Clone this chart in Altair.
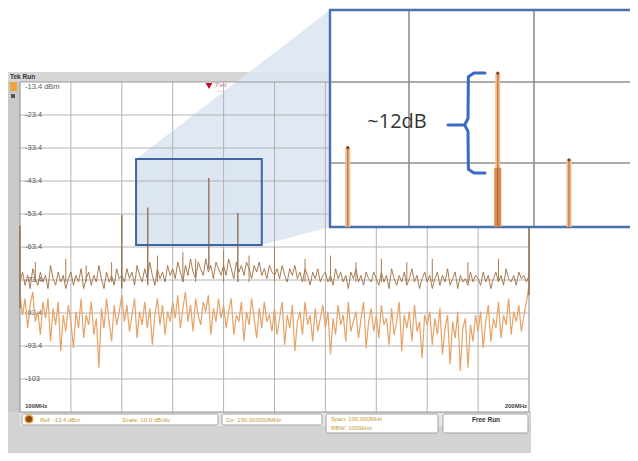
import altair as alt
import pandas as pd

# ---------------- layout constants ----------------
OX, OY = 8, 8          # page margin
W, H = 622, 445        # whole chart

# ---------------- data ----------------
FREQ_START = 100.0     # MHz
LOWER_STEP = 0.5
UPPER_STEP = 0.5

lower_trace = [
    -78, -84, -79, -88, -81, -77, -86, -83, -90, -80, -85, -79, -92, -82, -87, -80, -95, -84, -89, -81,
    -86, -94, -83, -88, -79, -91, -84, -87, -80, -90, -85, -100, -82, -88, -79, -86, -92, -81, -87, -83,
    -78, -86, -81, -89, -84, -79, -91, -83, -87, -80, -88, -82, -93, -84, -79, -87, -81, -90, -83, -86,
    -80, -85, -78, -88, -82, -77, -86, -81, -89, -79, -84, -87, -80, -83, -78, -90, -82, -86, -79, -85,
    -81, -88, -83, -79, -90, -84, -86, -80, -92, -83, -87, -79, -85, -91, -82, -88, -80, -86, -84, -89,
    -82, -90, -85, -80, -93, -84, -88, -81, -95, -86, -83, -90, -80, -87, -84, -92, -82, -89, -85, -81,
    -88, -83, -96, -85, -90, -81, -87, -84, -92, -80, -89, -86, -83, -91, -85, -80, -94, -86, -82, -89,
    -84, -91, -81, -87, -85, -93, -82, -90, -86, -80, -95, -84, -88, -83, -92, -81, -89, -86, -97, -84,
    -87, -83, -93, -85, -90, -82, -96, -88, -84, -99, -86, -91, -83, -101, -88, -85, -100, -87, -92, -84,
    -89, -83, -94, -86, -81, -92, -85, -88, -80, -91, -84, -87, -79, -90, -83, -86, -81, -89, -84, -80,
    -75,
]

upper_trace = [
    -74, -71, -75, -72, -76, -70, -73, -75, -71, -74, -72, -76, -69, -73, -75, -71, -74, -72, -76, -73,
    -71, -75, -72, -74, -70, -76, -73, -71, -75, -72, -74, -69, -73, -76, -71, -74, -72, -75, -70, -73,
    -72, -74, -70, -73, -71, -75, -69, -72, -74, -70, -73, -68, -72, -75, -70, -73, -71, -74, -69, -72,
    -70, -73, -68, -71, -74, -69, -72, -67, -71, -73, -68, -70, -72, -67, -71, -69, -73, -68, -70, -72,
    -69, -72, -67, -70, -73, -68, -71, -69, -72, -68, -70, -73, -69, -71, -68, -72, -70, -73, -69, -71,
    -72, -70, -73, -69, -72, -74, -70, -72, -69, -73, -71, -74, -70, -72, -75, -71, -73, -70, -74, -72,
    -71, -74, -72, -75, -70, -73, -71, -74, -72, -76, -71, -73, -70, -74, -72, -75, -71, -73, -74, -71,
    -73, -75, -71, -74, -72, -76, -70, -73, -75, -72, -74, -71, -75, -73, -70, -74, -72, -76, -73, -71,
    -74, -72, -76, -73, -71, -75, -72, -74, -70, -75, -73, -71, -76, -72, -74, -73, -75, -71, -74, -72,
    -73, -75, -71, -74, -72, -76, -73, -71, -74, -72, -75, -70, -73, -74, -72, -75, -71, -73, -72, -74,
    -72,
]

minor_spike_freq = [103, 109, 113, 118, 127, 132, 134.5, 140, 145, 150, 156, 161, 166, 171, 176, 181, 188, 194]
minor_spike_peak = [-68, -67, -69, -68, -66, -65, -67, -64.3, -66, -63.4, -67, -66, -68, -67, -68, -67, -68, -67]
minor_spike_base = -74

main_spike_freq = [100.0, 120.0, 125.1, 137.1, 142.8, 200.0]
main_spike_peak = [-57.0, -53.7, -51.4, -42.5, -53.1, -56.0]
main_spike_base = [-82, -76, -75, -70, -74, -78]

y_ticks = [-13.4, -23.4, -33.4, -43.4, -53.4, -63.4, -73.4, -83.4, -93.4, -103.4]
y_tick_labels = ["-13.4 dBm", "-23.4", "-33.4", "-43.4", "-53.4", "-63.4", "-73.4", "-83.4", "-93.4", "-103"]
x_grid = [110, 120, 130, 140, 150, 160, 170, 180, 190]

zoom_box_freq = [122.8, 147.5]
zoom_box_db = [-62.8, -36.7]

inset_freq_domain = [123.68, 148.32]
inset_db_domain = [-61.3, -34.51]
inset_grid_freq = [130, 140]
inset_grid_db = [-43.4, -53.4]
inset_spike_freq = [125.1, 137.1, 142.8]
inset_spike_peak = [-51.5, -42.3, -53.0]
inset_lower_freq = [137.1]
inset_lower_top = [-54.0]

brace_freq = [136.08, 135.2, 134.75, 134.72, 134.45, 134.72, 134.75, 135.2, 136.08]
brace_db = [-42.29, -42.29, -42.75, -47.9, -48.71, -49.5, -54.17, -54.63, -54.63]
pointer_freq = [133.12, 134.45]
pointer_db = -48.71
annot_text = "~12dB"
annot_freq = 129.04
annot_db = -48.34

# ---------------- scales ----------------
main_x = alt.Scale(domain=[100, 200], range=[20 - OX, 529 - OX], nice=False, zero=False)
main_y = alt.Scale(domain=[-113.4, -13.4], range=[412 - OY, 82 - OY], nice=False, zero=False)
ins_x = alt.Scale(domain=inset_freq_domain, range=[330 - OX, 638 - OX], nice=False, zero=False)
ins_y = alt.Scale(domain=inset_db_domain, range=[227 - OY, 10 - OY], nice=False, zero=False)
pix_x = alt.Scale(domain=[0, W], range=[0, W], nice=False, zero=False)
pix_y = alt.Scale(domain=[0, H], range=[0, H], nice=False, zero=False)


def mxp(f):
    return (20 - OX) + (f - 100) / 100 * 509


def myp(d):
    return (82 - OY) + (-13.4 - d) / 100 * 330


one = pd.DataFrame({"k": [0]})


def box(x1, y1, x2, y2, **kw):
    return alt.Chart(one).mark_rect(**kw).encode(
        x=alt.value(x1 - OX), x2=alt.value(x2 - OX), y=alt.value(y1 - OY), y2=alt.value(y2 - OY))


def label(x, y, s, **kw):
    kw.setdefault("font", "Liberation Sans")
    return alt.Chart(one).mark_text(**kw).encode(
        x=alt.value(x - OX), y=alt.value(y - OY), text=alt.value(s))


layers = []

# ---------------- screen background ----------------
layers.append(box(8, 72, 20, 470, fill="#c9c9c9"))
layers.append(box(8, 412, 531, 470, fill="#d3d3d3"))
layers.append(box(8, 72, 531, 82, fill="#d6d6d6"))
layers.append(box(20, 82, 529, 412, fill="white"))

# ---------------- funnel from zoom box to inset ----------------
bl, br = mxp(zoom_box_freq[0]), mxp(zoom_box_freq[1])
bt, bb = myp(zoom_box_db[1]), myp(zoom_box_db[0])
ix0, it0, ib0 = 330 - OX, 10 - OY, 227 - OY
top_at_br = bt + (it0 - bt) * (br - bl) / (ix0 - bl)
funnel = pd.DataFrame({"px": [bl, br, ix0], "top": [bt, top_at_br, it0], "bot": [bb, bb, ib0]})
layers.append(alt.Chart(funnel).mark_area(color="#dce6f2", opacity=0.9).encode(
    x=alt.X("px:Q", scale=pix_x, axis=None),
    y=alt.Y("top:Q", scale=pix_y, axis=None),
    y2="bot:Q"))

zb = pd.DataFrame({"f1": [zoom_box_freq[0]], "f2": [zoom_box_freq[1]],
                   "d1": [zoom_box_db[0]], "d2": [zoom_box_db[1]]})
layers.append(alt.Chart(zb).mark_rect(fill="#dce6f2", opacity=0.9).encode(
    x=alt.X("f1:Q", scale=main_x, axis=None), x2="f2:Q",
    y=alt.Y("d1:Q", scale=main_y, axis=None), y2="d2:Q"))

# ---------------- main grid ----------------
layers.append(alt.Chart(pd.DataFrame({"f": x_grid})).mark_rule(color="#b3b3b3", strokeWidth=1).encode(
    x=alt.X("f:Q", scale=main_x, axis=None), y=alt.value(82 - OY), y2=alt.value(412 - OY)))
layers.append(alt.Chart(pd.DataFrame({"d": y_ticks[1:]})).mark_rule(color="#b3b3b3", strokeWidth=1).encode(
    y=alt.Y("d:Q", scale=main_y, axis=None), x=alt.value(20 - OX), x2=alt.value(529 - OX)))
layers.append(box(20, 82, 529, 412, fill="transparent", stroke="#9a9a9a", strokeWidth=1.2))

# tick labels
ticks_df = pd.DataFrame({"d": y_ticks[1:], "t": y_tick_labels[1:]})
layers.append(alt.Chart(ticks_df).mark_text(align="left", baseline="middle", fontSize=7.5,
                                            color="#5a5a5a", font="Liberation Sans").encode(
    y=alt.Y("d:Q", scale=main_y, axis=None), x=alt.value(25 - OX), text="t:N"))
top_df = pd.DataFrame({"d": y_ticks[:1], "t": y_tick_labels[:1]})
layers.append(alt.Chart(top_df).mark_text(align="left", baseline="middle", fontSize=7.5, dy=5,
                                          color="#5a5a5a", font="Liberation Sans").encode(
    y=alt.Y("d:Q", scale=main_y, axis=None), x=alt.value(25 - OX), text="t:N"))

# ---------------- spectrum traces ----------------
lower_df = pd.DataFrame({"f": [FREQ_START + i * LOWER_STEP for i in range(len(lower_trace))],
                         "d": lower_trace})
upper_df = pd.DataFrame({"f": [FREQ_START + i * UPPER_STEP for i in range(len(upper_trace))],
                         "d": upper_trace})
layers.append(alt.Chart(lower_df).mark_line(color="#e7a266", strokeWidth=1.2).encode(
    x=alt.X("f:Q", scale=main_x, axis=None), y=alt.Y("d:Q", scale=main_y, axis=None)))
layers.append(alt.Chart(upper_df).mark_line(color="#9e6d3e", strokeWidth=0.9).encode(
    x=alt.X("f:Q", scale=main_x, axis=None), y=alt.Y("d:Q", scale=main_y, axis=None)))
minor_df = pd.DataFrame({"f": minor_spike_freq, "p": minor_spike_peak, "b": minor_spike_base})
layers.append(alt.Chart(minor_df).mark_rule(color="#b07a48", strokeWidth=1).encode(
    x=alt.X("f:Q", scale=main_x, axis=None), y=alt.Y("b:Q", scale=main_y, axis=None), y2="p:Q"))
spike_df = pd.DataFrame({"f": main_spike_freq, "p": main_spike_peak, "b": main_spike_base})
layers.append(alt.Chart(spike_df).mark_rule(color="#8e6a4a", strokeWidth=1.3).encode(
    x=alt.X("f:Q", scale=main_x, axis=None), y=alt.Y("b:Q", scale=main_y, axis=None), y2="p:Q"))

# zoom box outline
layers.append(alt.Chart(zb).mark_rect(fill="transparent", stroke="#3f65a3", strokeWidth=2).encode(
    x=alt.X("f1:Q", scale=main_x, axis=None), x2="f2:Q",
    y=alt.Y("d1:Q", scale=main_y, axis=None), y2="d2:Q"))

# ---------------- top bar / markers ----------------
layers.append(label(10, 77, "Tek Run", fontSize=6.5, fontWeight="bold", color="#333333", align="left",
                    baseline="middle"))
layers.append(box(10, 82, 17, 91, fill="#f0a53a"))
layers.append(box(11, 94, 15, 98, fill="#555555"))
layers.append(alt.Chart(one).mark_point(shape="triangle-down", filled=True, color="#c0102a", size=45,
                                        opacity=1).encode(x=alt.value(209 - OX), y=alt.value(86 - OY)))
layers.append(label(215, 85, "T'ed", fontSize=6, color="#e07080", align="left", baseline="middle"))
layers.append(label(215, 91, "––––", fontSize=5, color="#e8a0a8", align="left", baseline="middle"))

# ---------------- bottom labels / status bar ----------------
layers.append(label(25, 406, "100MHz", fontSize=6, fontWeight="bold", color="#444444", align="left",
                    baseline="middle"))
layers.append(label(527, 406, "200MHz", fontSize=6, fontWeight="bold", color="#444444", align="right",
                    baseline="middle"))
layers.append(box(20, 413, 529, 426, fill="#e6e6e6"))
layers.append(box(22, 414, 218, 425, fill="white", stroke="#a0a0a0", strokeWidth=1, cornerRadius=2))
layers.append(box(222, 414, 322, 425, fill="white", stroke="#a0a0a0", strokeWidth=1, cornerRadius=2))
layers.append(box(326, 414, 438, 433, fill="white", stroke="#a0a0a0", strokeWidth=1, cornerRadius=2))
layers.append(box(443, 414, 528, 433, fill="white", stroke="#a0a0a0", strokeWidth=1, cornerRadius=2))
layers.append(alt.Chart(one).mark_circle(color="#8a4a14", size=60, opacity=1, stroke="#f0a040",
                                         strokeWidth=1.5).encode(x=alt.value(29 - OX), y=alt.value(419 - OY)))
stat_kw = dict(fontSize=6, color="#c49a3a", align="left", baseline="middle")
layers.append(label(40, 419.5, "Ref: -13.4 dBm", **stat_kw))
layers.append(label(122, 419.5, "Scale: 10.0 dB/div", **stat_kw))
layers.append(label(226, 419.5, "Ctr: 150.000000MHz", **stat_kw))
layers.append(label(331, 419, "Span:    100.000MHz", **stat_kw))
layers.append(label(331, 428, "RBW:    1000kHz", **stat_kw))
layers.append(label(486, 420, "Free Run", fontSize=6.5, fontWeight="bold", color="#333333",
                    align="center", baseline="middle"))

# ---------------- inset (magnified view) ----------------
layers.append(box(330, 10, 650, 227, fill="white", stroke="#4a6fab", strokeWidth=2.4))
layers.append(alt.Chart(pd.DataFrame({"f": inset_grid_freq})).mark_rule(color="#8f8f8f", strokeWidth=1.6).encode(
    x=alt.X("f:Q", scale=ins_x, axis=None), y=alt.value(11 - OY), y2=alt.value(226 - OY)))
layers.append(alt.Chart(pd.DataFrame({"d": inset_grid_db})).mark_rule(color="#8f8f8f", strokeWidth=1.6).encode(
    y=alt.Y("d:Q", scale=ins_y, axis=None), x=alt.value(331 - OX), x2=alt.value(640 - OX)))

ispk = pd.DataFrame({"f": inset_spike_freq, "p": inset_spike_peak, "b": inset_db_domain[0]})
layers.append(alt.Chart(ispk).mark_rule(color="#f1bd90", strokeWidth=5).encode(
    x=alt.X("f:Q", scale=ins_x, axis=None), y=alt.Y("b:Q", scale=ins_y, axis=None), y2="p:Q"))
ilow = pd.DataFrame({"f": inset_lower_freq, "p": inset_lower_top, "b": inset_db_domain[0]})
layers.append(alt.Chart(ilow).mark_rule(color="#d88c52", strokeWidth=7).encode(
    x=alt.X("f:Q", scale=ins_x, axis=None), y=alt.Y("b:Q", scale=ins_y, axis=None), y2="p:Q"))
layers.append(alt.Chart(ispk).mark_rule(color="#b4642c", strokeWidth=1.3, opacity=0.8).encode(
    x=alt.X("f:Q", scale=ins_x, axis=None), y=alt.Y("b:Q", scale=ins_y, axis=None), y2="p:Q"))
layers.append(alt.Chart(ispk).mark_circle(color="#7a4020", size=10, opacity=1).encode(
    x=alt.X("f:Q", scale=ins_x, axis=None), y=alt.Y("p:Q", scale=ins_y, axis=None)))

brace_df = pd.DataFrame({"f": brace_freq, "d": brace_db, "i": list(range(len(brace_freq)))})
layers.append(alt.Chart(brace_df).mark_line(color="#3a6bc2", strokeWidth=3, strokeCap="round",
                                            strokeJoin="round").encode(
    x=alt.X("f:Q", scale=ins_x, axis=None), y=alt.Y("d:Q", scale=ins_y, axis=None), order="i:Q"))
ptr_df = pd.DataFrame({"f1": [pointer_freq[0]], "f2": [pointer_freq[1]], "d": [pointer_db]})
layers.append(alt.Chart(ptr_df).mark_rule(color="#3a6bc2", strokeWidth=3, strokeCap="round").encode(
    x=alt.X("f1:Q", scale=ins_x, axis=None), x2="f2:Q", y=alt.Y("d:Q", scale=ins_y, axis=None)))
ann_df = pd.DataFrame({"f": [annot_freq], "d": [annot_db], "t": [annot_text]})
layers.append(alt.Chart(ann_df).mark_text(font="Open Sans", fontSize=20, color="#333333", align="center",
                                          baseline="middle").encode(
    x=alt.X("f:Q", scale=ins_x, axis=None), y=alt.Y("d:Q", scale=ins_y, axis=None), text="t:N"))

chart = alt.layer(*layers).resolve_scale(x="independent", y="independent").properties(
    width=W, height=H, padding=0, autosize=alt.AutoSizeParams(type="none"),
    background="white",
).configure_view(stroke=None)

chart.save("out.html", embed_options={"renderer": "svg", "actions": False})
